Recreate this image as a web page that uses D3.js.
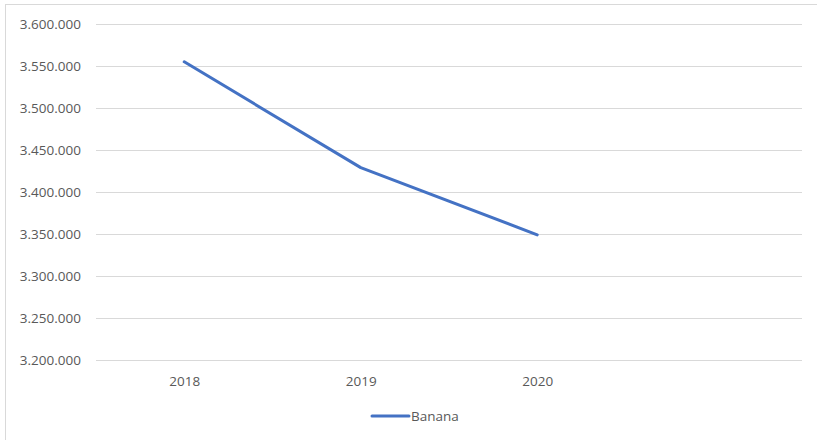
<!DOCTYPE html>
<html>
<head>
<meta charset="utf-8">
<script src="https://cdn.jsdelivr.net/npm/d3@7"></script>
<style>
  html, body { margin: 0; padding: 0; background: #fff; }
  svg { display: block; }
  text { font-family: "Open Sans", "Noto Sans", sans-serif; fill: #595959; }
</style>
</head>
<body>
<svg id="chart" width="817" height="440"></svg>
<script>
// Banana production by year
const categories = ["2018", "2019", "2020", ""];
const seriesName = "Banana";
const values = [3555000, 3429000, 3349000, null];
const yTicks = [3200000, 3250000, 3300000, 3350000, 3400000, 3450000, 3500000, 3550000, 3600000];

const W = 817, H = 440;
const margin = { top: 24, right: 15, bottom: 80, left: 96 };
const svg = d3.select("#chart");

// chart frame
svg.append("rect")
  .attr("x", 5.5).attr("y", 4.5)
  .attr("width", W + 10).attr("height", H + 10)
  .attr("fill", "none").attr("stroke", "#d9d9d9").attr("stroke-width", 1);

const x = d3.scalePoint()
  .domain(categories.map((c, i) => i))
  .range([margin.left, W - margin.right])
  .padding(0.5);

const y = d3.scaleLinear()
  .domain([3200000, 3600000])
  .range([360, margin.top]);

const fmt = v => d3.format(",")(v).replace(/,/g, ".");

// horizontal gridlines
const yAxis = d3.axisLeft(y).tickValues(yTicks).tickSize(-(W - margin.right - margin.left)).tickFormat(fmt).tickPadding(15);
const gy = svg.append("g").attr("transform", `translate(${margin.left},0)`).call(yAxis);
gy.select(".domain").remove();
gy.selectAll(".tick line").attr("stroke", "#d9d9d9").attr("stroke-width", 1);
gy.selectAll(".tick text").attr("font-size", "13.5px").attr("fill", "#595959");

// category labels
const xAxis = d3.axisBottom(x).tickSize(0).tickPadding(16).tickFormat(i => categories[i]);
const gx = svg.append("g").attr("transform", `translate(0,360)`).call(xAxis);
gx.select(".domain").remove();
gx.selectAll(".tick text").attr("font-size", "13.5px").attr("fill", "#595959");

// series line
const line = d3.line()
  .defined(d => d.v != null)
  .x(d => x(d.i))
  .y(d => y(d.v));

svg.append("path")
  .datum(values.map((v, i) => ({ i, v })))
  .attr("d", line)
  .attr("fill", "none")
  .attr("stroke", "#4472c4")
  .attr("stroke-width", 3)
  .attr("stroke-linejoin", "round")
  .attr("stroke-linecap", "round");

// legend
const lg = svg.append("g").attr("transform", "translate(372,416)");
lg.append("line")
  .attr("x1", 0).attr("x2", 37).attr("y1", 0).attr("y2", 0)
  .attr("stroke", "#4472c4").attr("stroke-width", 3).attr("stroke-linecap", "round");
lg.append("text")
  .attr("x", 39).attr("y", 5)
  .attr("font-size", "13.5px")
  .text(seriesName);
</script>
</body>
</html>
